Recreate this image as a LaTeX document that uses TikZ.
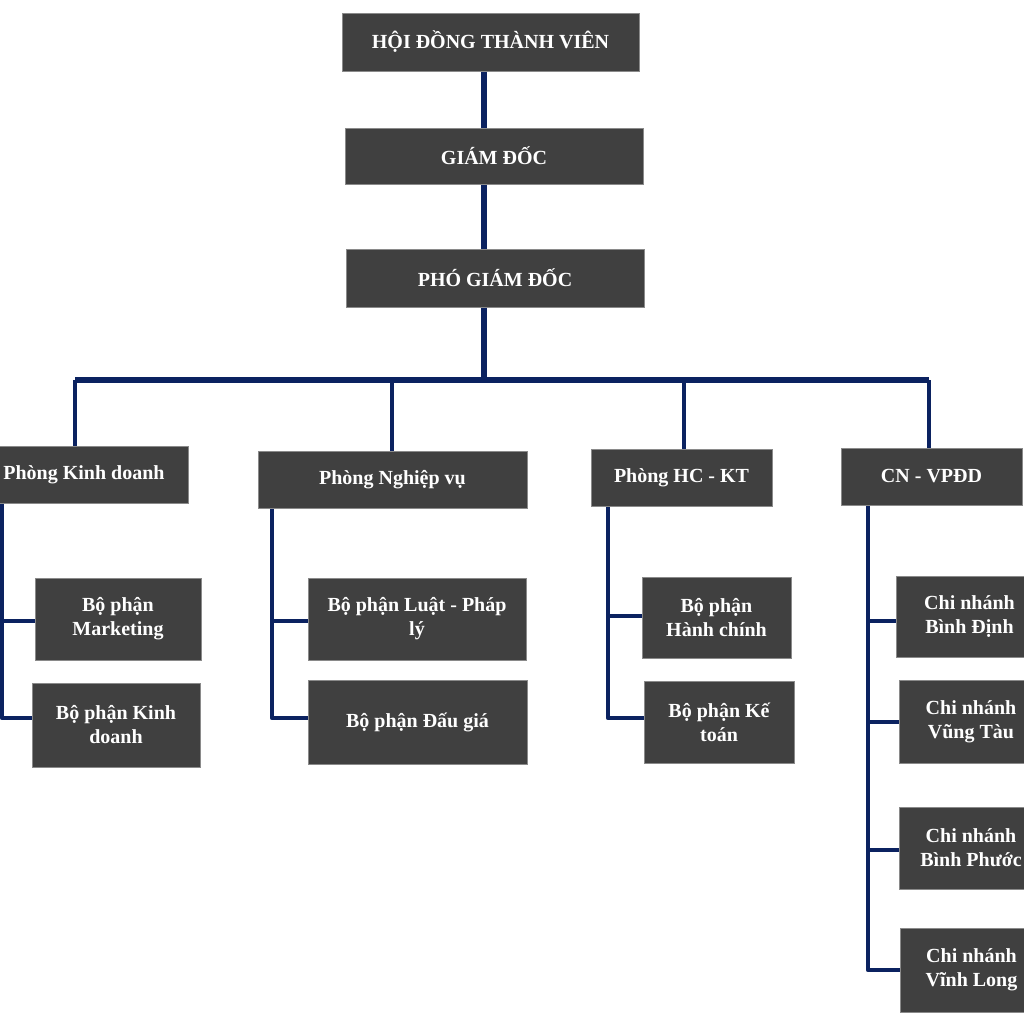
\documentclass[tikz,border=0pt]{standalone}
\usepackage{fontspec}
\setmainfont{Liberation Serif}
\usetikzlibrary{backgrounds}
\definecolor{boxfill}{HTML}{404040}
\definecolor{boxedge}{HTML}{8A8A8A}
\definecolor{navy}{HTML}{0B2260}
\begin{document}
\begin{tikzpicture}[x=1pt,y=-1pt,
  orgbox/.style={fill=boxfill, draw=boxedge, line width=0.6pt, text=white,
    font=\fontsize{20}{24}\selectfont\bfseries, align=center, inner sep=0pt},
  conn/.style={draw=navy, line width=4.3pt, line join=round},
  trunkline/.style={conn, line width=5.5pt}]
\useasboundingbox (0,0) rectangle (1024,1024);
\clip (0,0) rectangle (1024,1024);
% level 0-2
\node[orgbox, minimum width=297pt, minimum height=58pt] (hdtv) at (490.5,42) {HỘI ĐỒNG THÀNH VIÊN};
\node[orgbox, minimum width=298pt, minimum height=56pt] (gd) at (494,156) {GIÁM ĐỐC};
\node[orgbox, minimum width=298pt, minimum height=58pt] (pgd) at (495,278) {PHÓ GIÁM ĐỐC};
% departments
\node[orgbox, minimum width=208pt, minimum height=57pt] (pkd) at (84,474.5) {Phòng Kinh doanh};
\node[orgbox, minimum width=269pt, minimum height=57pt] (pnv) at (392.5,479.5) {Phòng Nghiệp vụ};
\node[orgbox, minimum width=181pt, minimum height=57pt] (phc) at (681.5,477.5) {Phòng HC - KT};
\node[orgbox, minimum width=181pt, minimum height=57pt] (pcn) at (931.5,476.5) {CN - VPĐD};
% sub units
\node[orgbox, minimum width=166pt, minimum height=82pt] (bmk) at (118,619) {Bộ phận\\Marketing};
\node[orgbox, minimum width=168pt, minimum height=84pt] (bkd) at (116,725) {Bộ phận Kinh\\doanh};
\node[orgbox, minimum width=218pt, minimum height=82pt] (blp) at (417,619) {Bộ phận Luật - Pháp\\lý};
\node[orgbox, minimum width=219pt, minimum height=84pt] (bdg) at (417.5,722) {Bộ phận Đấu giá};
\node[orgbox, minimum width=149pt, minimum height=81pt] (bhc) at (716.5,617.5) {Bộ phận\\Hành chính};
\node[orgbox, minimum width=150pt, minimum height=82pt] (bkt) at (719,722) {Bộ phận Kế\\toán};
\node[orgbox, minimum width=147pt, minimum height=81pt] (cbd) at (969.5,616.5) {Chi nhánh\\Bình Định};
\node[orgbox, minimum width=144pt, minimum height=83pt] (cvt) at (971,721.5) {Chi nhánh\\Vũng Tàu};
\node[orgbox, minimum width=144pt, minimum height=82pt] (cbp) at (971,848) {Chi nhánh\\Bình Phước};
\node[orgbox, minimum width=143pt, minimum height=84pt] (cvl) at (971.5,970) {Chi nhánh\\Vĩnh Long};
% helper coordinates
\coordinate (trunk) at (484,380);
\coordinate (busL) at (75,380);
\coordinate (d2) at (392,380);
\coordinate (d3) at (684,380);
\coordinate (busR) at (929,380);
\coordinate (vkd) at (2,0);
\coordinate (vnv) at (272,0);
\coordinate (vhc) at (608,0);
\coordinate (vcn) at (868,0);
\begin{pgfonlayer}{background}
\fill[white] (0,0) rectangle (1024,1024);
\draw[trunkline] (hdtv.south -| trunk) -- (trunk);
\draw[trunkline] (busL) -- (busR);
\draw[conn] (busL) -- (busL |- pkd.north);
\draw[conn] (d2) -- (d2 |- pnv.north);
\draw[conn] (d3) -- (d3 |- phc.north);
\draw[conn] (busR) -- (busR |- pcn.north);
\draw[conn] (vkd |- pkd.south) |- ([yshift=-2pt]bmk.west);
\draw[conn] (vkd |- pkd.south) |- ([yshift=7pt]bkd.west);
\draw[conn] (vnv |- pnv.south) |- ([yshift=-2pt]blp.west);
\draw[conn] (vnv |- pnv.south) |- ([yshift=4pt]bdg.west);
\draw[conn] (vhc |- phc.south) |- ([yshift=1.5pt]bhc.west);
\draw[conn] (vhc |- phc.south) |- ([yshift=4pt]bkt.west);
\draw[conn] (vcn |- pcn.south) |- ([yshift=-4.5pt]cbd.west);
\draw[conn] (vcn |- pcn.south) |- ([yshift=-0.5pt]cvt.west);
\draw[conn] (vcn |- pcn.south) |- ([yshift=-2pt]cbp.west);
\draw[conn] (vcn |- pcn.south) |- (cvl.west);
\end{pgfonlayer}
\end{tikzpicture}
\end{document}
